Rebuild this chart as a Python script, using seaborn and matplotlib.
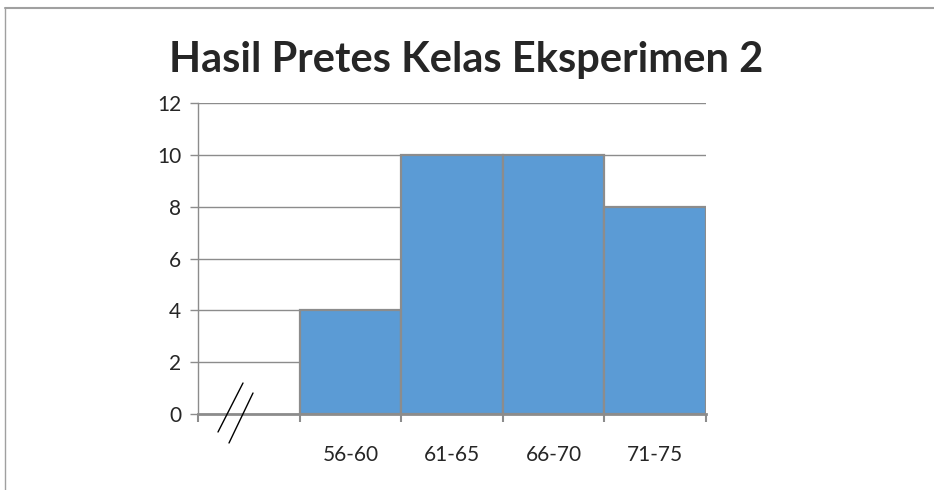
import matplotlib
matplotlib.use("Agg")
import matplotlib.pyplot as plt
import seaborn as sns
from matplotlib.lines import Line2D

# data
categories = ["56-60", "61-65", "66-70", "71-75"]
counts = [4, 10, 10, 8]
slots = [""] + categories  # first empty slot carries the axis break
y_ticks = [0, 2, 4, 6, 8, 10, 12]

sns.set_style("white")
plt.rcParams['font.family'] = ['Lato', 'DejaVu Sans']

fig = plt.figure(figsize=(9.34, 4.9), dpi=100)
ax = fig.add_axes([198/934, 1 - 414/490, 508/934, 311/490])

sns.barplot(x=categories, y=counts, order=slots, color="#5B9BD5",
            width=1.0, edgecolor="#8C8C8C", linewidth=1.6,
            saturation=1, ax=ax, zorder=3)

ax.set_ylim(0, 12)
ax.set_xlim(-0.5, len(slots) - 0.5)
ax.set_yticks(y_ticks)
ax.set_yticklabels([str(v) for v in y_ticks], fontsize=15)
ax.set_xticks(range(len(slots)))
ax.set_xticklabels(slots, fontsize=15)
ax.set_xticks([i - 0.5 for i in range(len(slots) + 1)], minor=True)
ax.tick_params(axis="x", which="major", bottom=True, length=0, pad=22)
ax.tick_params(axis="x", which="minor", bottom=True, length=6, width=1.5,
               color="#8C8C8C", direction="out")
ax.tick_params(axis="y", left=True, length=6, width=1, color="#8C8C8C",
               direction="out", pad=6)
ax.set_xlabel("")
ax.set_ylabel("")

ax.grid(axis="y", color="#8C8C8C", linewidth=1, zorder=0)
ax.set_axisbelow(True)
for side in ["top", "right"]:
    ax.spines[side].set_visible(False)
ax.spines["left"].set_color("#8C8C8C")
ax.spines["left"].set_linewidth(1)
ax.spines["bottom"].set_color("#8C8C8C")
ax.spines["bottom"].set_linewidth(2)

# axis break marks "//"
for x0, y0, x1, y1 in [(218, 432, 243, 383), (229, 443, 253, 393)]:
    fig.add_artist(Line2D([x0/934, x1/934], [1 - y0/490, 1 - y1/490],
                          color="black", linewidth=1))

# outer frame of the chart box
fig.add_artist(Line2D([5/934, 1], [1 - 8/490, 1 - 8/490], color="#A0A0A0", linewidth=1.5))
fig.add_artist(Line2D([5/934, 5/934], [0, 1 - 8/490], color="#A0A0A0", linewidth=1))

fig.text(466/934, 1 - 60/490, "Hasil Pretes Kelas Eksperimen 2",
         ha="center", va="center", fontsize=30, fontweight="bold")

plt.savefig("out.png", dpi=100)
